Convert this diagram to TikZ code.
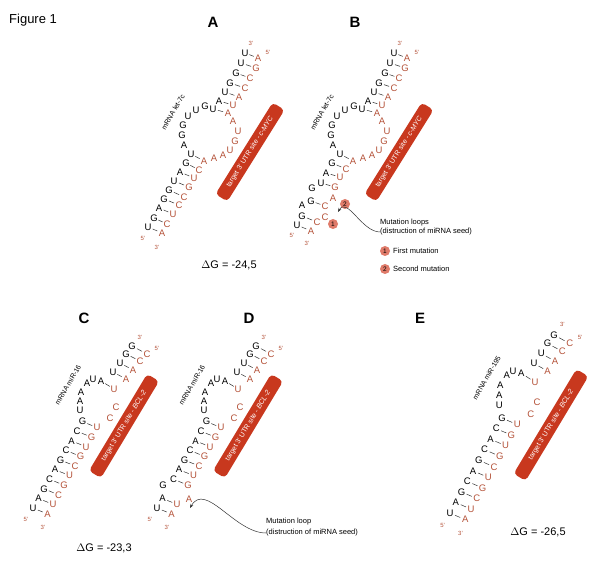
\documentclass[tikz,border=0pt]{standalone}
\usepackage{fontspec}
\setmainfont{Liberation Sans}
\usetikzlibrary{calc,arrows.meta}
\definecolor{rc}{HTML}{B5533A}
\definecolor{boxc}{HTML}{C8381E}
\definecolor{circc}{HTML}{E07B6A}
\tikzset{
 nb/.style={inner sep=0pt,font=\fontsize{9.5}{9.5}\selectfont,text=black},
 nr/.style={inner sep=0pt,font=\fontsize{9.5}{9.5}\selectfont,text=rc},
 bond/.style={draw=black!80,line width=0.5pt},
 prime/.style={inner sep=0pt,font=\fontsize{6}{6}\selectfont,text=rc},
 rbox/.style={fill=boxc,rounded corners=4pt,text=white,inner sep=0pt,minimum height=14pt,font=\fontsize{7}{7}\selectfont},
 mlab/.style={inner sep=0pt,font=\fontsize{7}{7}\selectfont,rotate=60},
 plab/.style={inner sep=0pt,font=\fontsize{15}{15}\selectfont\bfseries},
 dg/.style={inner sep=0pt,font=\fontsize{11}{11}\selectfont},
 note/.style={inner sep=0pt,anchor=west,font=\fontsize{7.5}{8}\selectfont},
 mcirc/.style={circle,fill=circc,inner sep=0pt,minimum size=10pt,font=\fontsize{6.5}{6.5}\selectfont},
 marrow/.style={-{Stealth[length=4pt]},draw=black!80,line width=0.5pt}
}
\newcommand\bp[6]{\node[nb] (bl) at (#1,#2) {#3}; \node[nr] (br) at (#4,#5) {#6};
 \draw[bond] ($(bl)!0.33!(br)$) -- ($(bl)!0.67!(br)$);}
\newcommand\upperlet{%
 \node[prime] (p3) at (251,43) {3'}; \node[prime] (p5) at (268,52) {5'};
 \bp{245}{53}{U}{258}{58}{A}
 \bp{241}{63}{U}{256}{68}{G}
 \bp{236}{73}{G}{250}{78}{C}
 \bp{230}{83}{G}{245}{88}{C}
 \bp{225}{92}{U}{239}{97}{A}
 \bp{219}{101}{A}{233}{105}{U}
 \bp{213}{109}{U}{228}{113}{A}
 \node[nb] at (205,106) {G}; \node[nb] at (196,110) {U}; \node[nb] at (188,116) {U};
 \node[nb] at (183,125) {G}; \node[nb] at (182,135) {G}; \node[nb] at (184,145) {A};
 \node[nr] at (233,121) {A}; \node[nr] at (238,131) {U}; \node[nr] at (235,141) {G};
 \node[nr] at (230,150) {U}; \node[nr] at (223,155) {A}; \node[nr] at (214,158) {A};
 \bp{191}{154}{U}{204}{161}{A}
 \node[rbox,rotate=58,minimum width=108pt] (box) at (250,152) {target 3' UTR site - \textit{c-MYC}};
 \node[mlab] (ml) at (173,112) {mRNA let-7c};
}
\newcommand\uppermir[1]{%
 \node[prime] at (140,337) {3'}; \node[prime] at (157,348) {5'};
 \bp{132}{346}{G}{147}{354}{C}
 \bp{126}{354}{G}{140}{361}{C}
 \bp{120}{363}{U}{133}{370}{A}
 \bp{113}{372}{U}{126}{379}{A}
 \bp{101}{381}{A}{114}{389}{U}
 \node[nb] at (93,379) {U}; \node[nb] at (87,383) {A};
 \node[nb] at (81,392) {A}; \node[nb] at (80,401) {A}; \node[nb] at (80,410) {U};
 \node[nr] at (116,407) {C}; \node[nr] at (110,418) {C};
 \foreach \k/\L/\R in {3/C/G,4/A/U,5/G/C,6/C/G,7/A/U,8/C/G,9/G/U}{
   \bp{33+5.5*\k}{508-9.6*\k}{\L}{47.5+5.5*\k}{514-9.6*\k}{\R}}
 \bp{33}{508}{U}{47.5}{514}{A}
 \bp{38.5}{498.4}{A}{53}{504.4}{U}
 \node[prime] at (26,519) {5'}; \node[prime] at (43,527) {3'};
 \node[mlab] at (68,385) {mRNA #1};
}
\begin{document}
\begin{tikzpicture}[x=1pt,y=-1pt]
\path[use as bounding box,fill=white] (0,0) rectangle (600,580);
\node[inner sep=0pt,anchor=west,font=\fontsize{13}{13}\selectfont] (fig) at (9,20) {Figure 1};
\node[plab] (lA) at (213,22) {A};
\node[plab] (lB) at (355,22) {B};
\node[plab] (lC) at (84,318) {C};
\node[plab] (lD) at (249,318) {D};
\node[plab] (lE) at (420,318) {E};
\upperlet
\bp{186}{163}{G}{199}{170}{C}
\bp{180}{172}{A}{194}{178}{U}
\bp{174}{181}{U}{189}{187}{G}
\bp{169}{190}{G}{184}{197}{C}
\bp{164}{199}{G}{179}{205}{C}
\bp{159}{208}{A}{173}{214}{U}
\bp{154}{218}{G}{167}{224}{C}
\bp{148}{227}{U}{162}{233}{A}
\node[prime] at (143,238) {5'}; \node[prime] at (157,247) {3'};
\node[dg] (dgA) at (229,265) {$\Delta$G = -24,5};
\begin{scope}[xshift=149pt]
\upperlet
\end{scope}
\bp{332}{163}{G}{346}{169}{C}
\bp{326}{173}{A}{340}{177}{U}
\bp{321}{183}{U}{335}{187}{G}
\node[nb] at (312,188) {G};
\bp{311}{201}{G}{325}{206}{C}
\node[nb] at (302,205) {A}; \node[nr] at (333,198) {A};
\bp{302}{216}{G}{317}{222}{C}
\node[nr] at (325,217) {C};
\bp{297}{225}{U}{311}{231}{A}
\node[prime] at (292,235) {5'}; \node[prime] at (307,243) {3'};
\node[mcirc] (c2) at (345,204) {2};
\node[mcirc] (c1) at (333,224) {1};
\node[note] (mB1) at (380,223) {Mutation loops};
\node[note] (mB2) at (380,232) {(distruction of miRNA seed)};
\coordinate (aB) at (338,212);
\draw[marrow] (mB2.west) to[out=180,in=60] (aB);
\node[mcirc] (l1) at (385,251) {1}; \node[note] at (393,251) {First mutation};
\node[mcirc] (l2) at (385,269) {2}; \node[note] at (393,269) {Second mutation};
\uppermir{miR-16}
\bp{44}{488.8}{G}{58.5}{494.8}{C}
\node[rbox,rotate=59,minimum width=113pt] (boxC) at (124,426) {target 3' UTR site - \textit{BCL-2}};
\node[dg] at (104,548) {$\Delta$G = -23,3};
\begin{scope}[xshift=124pt]
\uppermir{miR-16}
\node[rbox,rotate=59,minimum width=113pt] (boxD) at (124,426) {target 3' UTR site - \textit{BCL-2}};
\end{scope}
\node[nb] at (163,485) {G}; \node[nr] at (189,499) {A};
\node[note] (mD1) at (266,522) {Mutation loop};
\node[note] (mD2) at (266,533) {(distruction of miRNA seed)};
\coordinate (aD) at (190,508);
\draw[marrow] (mD2.west) to[out=180,in=60] (aD);
\begin{scope}[shift={(450,513)},xscale=1.05,yscale=1.1,shift={(-33,-508)}]
\uppermir{miR-195}
\bp{44}{488.8}{G}{58.5}{494.8}{C}
\end{scope}
\node[rbox,rotate=59,minimum width=122pt] (boxE) at (551,425) {target 3' UTR site - \textit{BCL-2}};
\node[dg] at (538,532) {$\Delta$G = -26,5};
\end{tikzpicture}
\end{document}
